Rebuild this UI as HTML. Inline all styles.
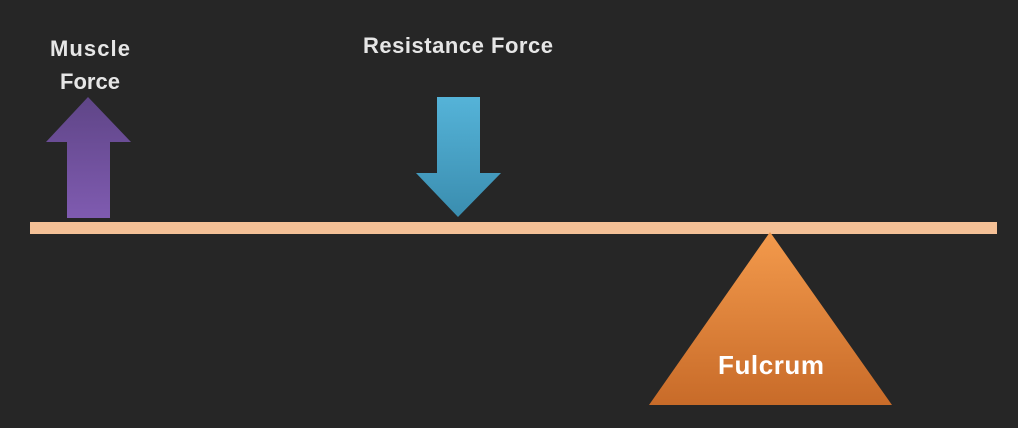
<!DOCTYPE html>
<html><head><meta charset="utf-8"><style>
html,body{margin:0;padding:0;background:#262626;}
svg{display:block;}
text{font-family:"Liberation Sans",sans-serif;font-weight:bold;}
</style></head><body>
<svg width="1018" height="428" viewBox="0 0 1018 428">
<defs>
<linearGradient id="gp" x1="0" y1="0" x2="0" y2="1"><stop offset="0" stop-color="#5f4587"/><stop offset="1" stop-color="#7f5bb0"/></linearGradient>
<linearGradient id="gb" x1="0" y1="0" x2="0" y2="1"><stop offset="0" stop-color="#55b3d8"/><stop offset="1" stop-color="#3a8daf"/></linearGradient>
<linearGradient id="go" x1="0" y1="0" x2="0" y2="1"><stop offset="0" stop-color="#f39a4c"/><stop offset="1" stop-color="#c86b29"/></linearGradient>
</defs>
<rect x="0" y="0" width="1018" height="428" fill="#262626"/>
<rect x="30" y="222" width="967" height="12" fill="#f4c096"/>
<polygon points="88,97 131,142 110,142 110,218 67,218 67,142 46,142" fill="url(#gp)"/>
<polygon points="437,97 480,97 480,173 501,173 458,217 416,173 437,173" fill="url(#gb)"/>
<polygon points="770,232 892,405 649,405" fill="url(#go)"/>
<text x="90" y="56" fill="#e6e6e6" font-size="22" text-anchor="middle" textLength="80">Muscle</text>
<text x="90" y="89" fill="#e6e6e6" font-size="22" text-anchor="middle">Force</text>
<text x="458" y="53" fill="#e6e6e6" font-size="22" text-anchor="middle" textLength="190">Resistance Force</text>
<text x="771" y="374" fill="#ffffff" font-size="26" text-anchor="middle" textLength="106">Fulcrum</text>
</svg>
</body></html>
